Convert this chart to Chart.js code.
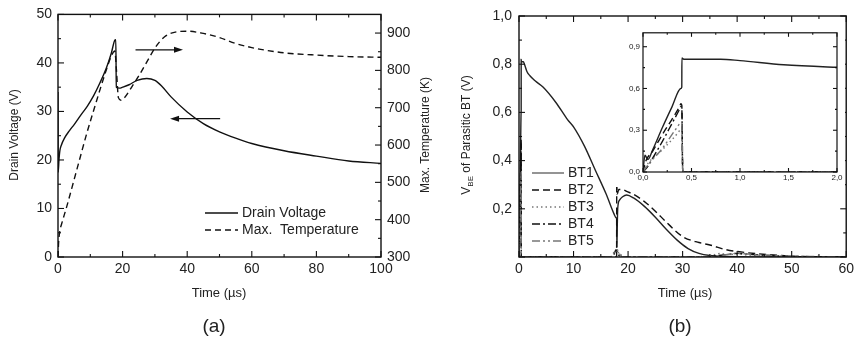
<!DOCTYPE html>
<html>
<head>
<meta charset="utf-8">
<script src="https://cdn.jsdelivr.net/npm/chart.js@4.4.1/dist/chart.umd.min.js"></script>
<style>
  html, body { margin: 0; padding: 0; background: #fff; }
  #wrap { position: relative; width: 858px; height: 343px; overflow: hidden; background: #fff; }
  canvas { position: absolute; }
</style>
</head>
<body>
<div id="wrap">
  <canvas id="chartA" width="440" height="343" style="left:0;top:0"></canvas>
  <canvas id="chartB" width="428" height="343" style="left:430px;top:0"></canvas>
  <canvas id="chartInset" width="232" height="162" style="left:613px;top:25px"></canvas>
</div>
<script>
// ---- panel (a): drain voltage and max temperature ----
var timeV = [0, 0.05, 0.3, 0.6, 1, 2, 3.5, 5, 7, 9, 11, 13, 15, 16.5, 17.6, 17.9, 18.05, 19, 20, 22, 24.5, 27.5, 30, 32, 35, 40, 45, 50, 55, 60, 70, 80, 90, 100];
var drainVoltage = [34, 17.5, 20, 22, 23, 24.5, 26, 27.3, 29.2, 31, 33.2, 35.9, 39, 42, 44.7, 44.8, 35, 34.8, 35, 35.5, 36.4, 36.8, 36.4, 35.3, 33, 29.9, 27.5, 25.8, 24.5, 23.4, 21.9, 20.8, 19.8, 19.3];
var timeT = [0, 0.2, 0.6, 1, 2.7, 5.8, 8.9, 12, 14.6, 16.6, 17.6, 18.1, 18.7, 19.5, 20.7, 23, 25, 28, 30, 33, 36, 40, 45, 50, 55, 60, 65, 70, 80, 90, 100];
var maxTemp = [300, 340, 372, 385, 435, 533, 631, 720, 792, 840, 852, 800, 727, 720, 728, 758, 785, 830, 860, 890, 902, 905, 899, 888, 872, 861, 853, 847, 841, 837, 835];
var ticksTimeA = [0, 20, 40, 60, 80, 100];
var ticksVoltage = [0, 10, 20, 30, 40, 50];
var ticksTemp = [300, 400, 500, 600, 700, 800, 900];
var arrowToTemp = [[24, 42.7], [38.7, 42.7]];
var arrowToVolt = [[50.2, 28.5], [34.7, 28.5]];

// ---- panel (b): V_BE of parasitic BTs ----
var timeBT1 = [0, 0.02, 0.05, 0.1, 0.2, 0.3, 0.39, 0.4, 0.401, 0.42, 0.8, 1.0, 1.45, 2, 3, 4.4, 6.8, 8.9, 10, 12, 14, 16, 17.4, 17.85, 17.9, 17.95, 18.0, 18.1, 18.4, 19, 19.75, 21, 23, 25, 27, 29, 31, 33, 35, 38, 42, 50, 60];
var bt1 = [0, 0.12, 0.09, 0.16, 0.32, 0.47, 0.6, 0.61, 0.82, 0.81, 0.81, 0.80, 0.77, 0.752, 0.73, 0.705, 0.64, 0.57, 0.54, 0.46, 0.36, 0.26, 0.18, 0.162, 0.16, 0.04, 0.1, 0.2, 0.235, 0.25, 0.257, 0.245, 0.21, 0.165, 0.115, 0.07, 0.035, 0.015, 0.006, 0.002, 0, 0, 0];
var timeBT2 = [0, 0.03, 0.1, 0.2, 0.3, 0.38, 0.39, 0.4, 0.41, 17.0, 17.9, 17.92, 18.0, 18.3, 19, 19.75, 21, 23, 25, 27, 30, 33, 35, 38, 41, 44, 48, 52, 60];
var bt2 = [0, 0.08, 0.15, 0.27, 0.38, 0.475, 0.49, 0.48, 0, 0, 0, 0.31, 0.26, 0.28, 0.28, 0.272, 0.26, 0.23, 0.19, 0.145, 0.085, 0.06, 0.05, 0.03, 0.02, 0.013, 0.006, 0.002, 0];
var timeBT3 = [0, 0.05, 0.2, 0.37, 0.38, 0.4, 0.41, 16.5, 17.2, 17.6, 18, 18.4, 19, 30, 35, 37, 38, 40, 42, 45, 50, 55, 60];
var bt3 = [0, 0.06, 0.16, 0.29, 0.3, 0.3, 0, 0, 0.01, 0.03, 0.015, 0.02, 0, 0, 0.005, 0.015, 0.01, 0.012, 0.008, 0.005, 0.002, 0, 0];
var timeBT4 = [0, 0.05, 0.1, 0.2, 0.3, 0.38, 0.39, 0.4, 0.41, 16.8, 17.4, 17.8, 18.2, 19, 34, 36, 38, 40, 43, 46, 50, 60];
var bt4 = [0, 0.04, 0.1, 0.22, 0.35, 0.455, 0.47, 0.46, 0, 0, 0.01, 0.03, 0.01, 0, 0, 0.005, 0.01, 0.015, 0.01, 0.006, 0.002, 0];
var timeBT5 = [0, 0.05, 0.1, 0.2, 0.3, 0.37, 0.38, 0.4, 0.41, 17, 17.5, 18, 18.5, 19, 36, 38, 40, 42, 45, 50, 55, 60];
var bt5 = [0, 0.05, 0.09, 0.17, 0.27, 0.34, 0.35, 0.35, 0, 0, 0.02, 0.03, 0.01, 0, 0, 0.01, 0.015, 0.012, 0.008, 0.004, 0.002, 0];
var btNames = ['BT1', 'BT2', 'BT3', 'BT4', 'BT5'];
var ticksTimeB = [0, 10, 20, 30, 40, 50, 60];
var ticksVbe = [0, 0.2, 0.4, 0.6, 0.8, 1.0];
var ticksTimeInset = [0, 0.5, 1.0, 1.5, 2.0];
var ticksVbeInset = [0, 0.3, 0.6, 0.9];

var FONT = "'Liberation Sans', Arial, sans-serif";
var TEXT = '#222';

function xy(xs, ys) {
    return xs.map(function(x, i) { return { x: x, y: ys[i] }; });
}
function comma(d) {
    return function(v) { return v.toFixed(d).replace('.', ','); };
}
function fixedTicks(arr) {
    return function(scale) { scale.ticks = arr.map(function(v) { return { value: v }; }); };
}

// frame round the plot area and inward major/minor ticks
var frameTicks = {
    id: 'frameTicks',
    afterDatasetsDraw: function(chart, args, opts) {
        var ctx = chart.ctx, a = chart.chartArea;
        ctx.save();
        ctx.strokeStyle = '#111';
        ctx.lineWidth = opts.lw || 1.4;
        ctx.strokeRect(a.left, a.top, a.right - a.left, a.bottom - a.top);
        ctx.lineWidth = 1.1;
        Object.keys(chart.scales).forEach(function(id) {
            var s = chart.scales[id];
            var vals = s.ticks.map(function(t) { return t.value; });
            var minors = [];
            for (var i = 0; i < vals.length - 1; i++) minors.push((vals[i] + vals[i + 1]) / 2);
            var sides;
            if (s.axis === 'x') sides = ['bottom', 'top'];
            else if (id === 'y') sides = opts.mirrorY ? ['left', 'right'] : ['left'];
            else sides = ['right'];
            [[vals, opts.major], [minors, opts.minor]].forEach(function(set) {
                set[0].forEach(function(v) {
                    var p = s.getPixelForValue(v);
                    sides.forEach(function(side) {
                        ctx.beginPath();
                        if (side === 'bottom') { ctx.moveTo(p, a.bottom); ctx.lineTo(p, a.bottom - set[1]); }
                        if (side === 'top') { ctx.moveTo(p, a.top); ctx.lineTo(p, a.top + set[1]); }
                        if (side === 'left') { ctx.moveTo(a.left, p); ctx.lineTo(a.left + set[1], p); }
                        if (side === 'right') { ctx.moveTo(a.right, p); ctx.lineTo(a.right - set[1], p); }
                        ctx.stroke();
                    });
                });
            });
        });
        ctx.restore();
    }
};

// titles, captions, legends and arrows
var extras = {
    id: 'extras',
    beforeDraw: function(chart, args, opts) {
        if (!opts.whiteBg) return;
        var ctx = chart.ctx;
        ctx.save();
        ctx.fillStyle = '#fff';
        ctx.fillRect(0, 0, chart.width, chart.height);
        ctx.restore();
    },
    afterDraw: function(chart, args, opts) {
        var ctx = chart.ctx;
        ctx.save();
        (opts.texts || []).forEach(function(item) {
            var parts = typeof item.parts === 'string' ? [{ t: item.parts, size: item.size }] : item.parts;
            ctx.save();
            ctx.translate(item.x, item.y);
            if (item.rot) ctx.rotate(item.rot * Math.PI / 180);
            var total = 0;
            parts.forEach(function(p) {
                ctx.font = p.size + 'px ' + FONT;
                p.w = ctx.measureText(p.t).width;
                total += p.w;
            });
            var cx = item.align === 'left' ? 0 : -total / 2;
            ctx.textBaseline = 'middle';
            ctx.textAlign = 'left';
            ctx.fillStyle = TEXT;
            parts.forEach(function(p) {
                ctx.font = p.size + 'px ' + FONT;
                ctx.fillText(p.t, cx, p.sub ? 4 : 0);
                cx += p.w;
            });
            ctx.restore();
        });
        (opts.legend || []).forEach(function(l) {
            ctx.strokeStyle = l.color;
            ctx.lineWidth = 1.4;
            ctx.setLineDash(l.dash);
            ctx.beginPath();
            ctx.moveTo(l.x0, l.y);
            ctx.lineTo(l.x1, l.y);
            ctx.stroke();
            ctx.setLineDash([]);
            ctx.font = l.size + 'px ' + FONT;
            ctx.fillStyle = TEXT;
            ctx.textBaseline = 'middle';
            ctx.textAlign = 'left';
            ctx.fillText(l.text, l.x1 + 4, l.y);
        });
        (opts.arrows || []).forEach(function(ar) {
            var xs = chart.scales.x, ys = chart.scales[ar.axis || 'y'];
            var x0 = xs.getPixelForValue(ar.pts[0][0]), y0 = ys.getPixelForValue(ar.pts[0][1]);
            var x1 = xs.getPixelForValue(ar.pts[1][0]), y1 = ys.getPixelForValue(ar.pts[1][1]);
            var dir = x1 > x0 ? 1 : -1;
            ctx.strokeStyle = '#111';
            ctx.fillStyle = '#111';
            ctx.lineWidth = 1.3;
            ctx.beginPath();
            ctx.moveTo(x0, y0);
            ctx.lineTo(x1 - dir * 6, y1);
            ctx.stroke();
            ctx.beginPath();
            ctx.moveTo(x1, y1);
            ctx.lineTo(x1 - dir * 9, y1 - 3);
            ctx.lineTo(x1 - dir * 9, y1 + 3);
            ctx.closePath();
            ctx.fill();
        });
        ctx.restore();
    }
};

function axis(opts) {
    var o = {
        type: 'linear',
        min: opts.min,
        max: opts.max,
        position: opts.position,
        grid: { display: false, drawTicks: false },
        border: { display: false },
        afterBuildTicks: fixedTicks(opts.ticks),
        ticks: {
            autoSkip: false,
            maxRotation: 0,
            padding: opts.padding,
            color: TEXT,
            font: { family: FONT, size: opts.size },
            callback: opts.cb || function(v) { return v; }
        }
    };
    if (opts.width) o.afterFit = function(s) { s.width = opts.width; };
    if (opts.height) o.afterFit = function(s) { s.height = opts.height; };
    return o;
}

var lineBase = { pointRadius: 0, fill: false, borderWidth: 1.4, cubicInterpolationMode: 'monotone' };
function ds(data, color, dash, yAxis) {
    return Object.assign({}, lineBase, { data: data, borderColor: color, borderDash: dash, yAxisID: yAxis || 'y' });
}

// ---- chart (a) ----
new Chart(document.getElementById('chartA'), {
    type: 'line',
    data: {
        datasets: [
            ds(xy(timeV, drainVoltage), '#111', []),
            ds(xy(timeT, maxTemp), '#111', [6, 4], 'y2')
        ]
    },
    options: {
        responsive: false,
        animation: false,
        layout: { padding: { top: 14, left: 0, right: 0, bottom: 0 } },
        scales: {
            x: axis({ min: 0, max: 100, position: 'bottom', ticks: ticksTimeA, padding: 4, size: 14, height: 86 }),
            y: axis({ min: 0, max: 50, position: 'left', ticks: ticksVoltage, padding: 6, size: 14, width: 58 }),
            y2: axis({ min: 300, max: 950, position: 'right', ticks: ticksTemp, padding: 6, size: 14, width: 59 })
        },
        plugins: {
            legend: { display: false },
            tooltip: { enabled: false },
            frameTicks: { mirrorY: false, major: 6, minor: 3 },
            extras: {
                texts: [
                    { parts: 'Time (µs)', size: 13, x: 219, y: 293 },
                    { parts: '(a)', size: 19, x: 214, y: 327 },
                    { parts: 'Drain Voltage (V)', size: 12, x: 15, y: 135, rot: -90 },
                    { parts: 'Max. Temperature (K)', size: 12, x: 426, y: 135, rot: -90 }
                ],
                legend: [
                    { x0: 205, x1: 238, y: 213, dash: [], color: '#111', text: 'Drain Voltage', size: 14 },
                    { x0: 205, x1: 238, y: 230, dash: [6, 4], color: '#111', text: 'Max.  Temperature', size: 14 }
                ],
                arrows: [
                    { pts: arrowToTemp },
                    { pts: arrowToVolt }
                ]
            }
        }
    },
    plugins: [frameTicks, extras]
});

// ---- BT datasets shared by (b) and its inset ----
var btStyles = [
    { color: '#222', dash: [] },
    { color: '#111', dash: [7, 4] },
    { color: '#777', dash: [1.5, 3] },
    { color: '#111', dash: [8, 3, 2, 3] },
    { color: '#777', dash: [8, 3, 2, 3, 2, 3] }
];
function btDatasets() {
    var series = [xy(timeBT1, bt1), xy(timeBT2, bt2), xy(timeBT3, bt3), xy(timeBT4, bt4), xy(timeBT5, bt5)];
    // draw BT1 last so it sits on top
    return series.map(function(d, i) { return ds(d, btStyles[i].color, btStyles[i].dash); }).reverse();
}

new Chart(document.getElementById('chartB'), {
    type: 'line',
    data: { datasets: btDatasets() },
    options: {
        responsive: false,
        animation: false,
        layout: { padding: { top: 16, left: 0, right: 7, bottom: 0 } },
        scales: {
            x: axis({ min: 0, max: 60, position: 'bottom', ticks: ticksTimeB, padding: 4, size: 14, height: 86 }),
            y: axis({ min: 0, max: 1, position: 'left', ticks: ticksVbe, padding: 7, size: 14, width: 89,
                cb: function(v) { return v === 0 ? '' : comma(1)(v); } })
        },
        plugins: {
            legend: { display: false },
            tooltip: { enabled: false },
            frameTicks: { mirrorY: true, major: 6, minor: 3 },
            extras: {
                texts: [
                    { parts: 'Time (µs)', size: 13, x: 255, y: 293 },
                    { parts: '(b)', size: 19, x: 250, y: 327 },
                    { parts: [{ t: 'V', size: 12 }, { t: 'BE', size: 8, sub: true }, { t: ' of Parasitic BT (V)', size: 12 }], x: 37, y: 135, rot: -90 }
                ],
                legend: btNames.map(function(n, i) {
                    return { x0: 102, x1: 134, y: 173 + i * 17, dash: btStyles[i].dash, color: i === 0 ? '#666' : btStyles[i].color, text: n, size: 14 };
                })
            }
        }
    },
    plugins: [frameTicks, extras]
});

new Chart(document.getElementById('chartInset'), {
    type: 'line',
    data: { datasets: btDatasets() },
    options: {
        responsive: false,
        animation: false,
        layout: { padding: { top: 5, left: 0, right: 8, bottom: 0 } },
        scales: {
            x: axis({ min: 0, max: 2, position: 'bottom', ticks: ticksTimeInset, padding: 1, size: 8, height: 15, cb: comma(1) }),
            y: axis({ min: 0, max: 1, position: 'left', ticks: ticksVbeInset, padding: 3, size: 8, width: 30, cb: comma(1) })
        },
        plugins: {
            legend: { display: false },
            tooltip: { enabled: false },
            frameTicks: { mirrorY: true, major: 4, minor: 2, lw: 1.2 },
            extras: { whiteBg: true }
        }
    },
    plugins: [frameTicks, extras]
});
</script>
</body>
</html>
